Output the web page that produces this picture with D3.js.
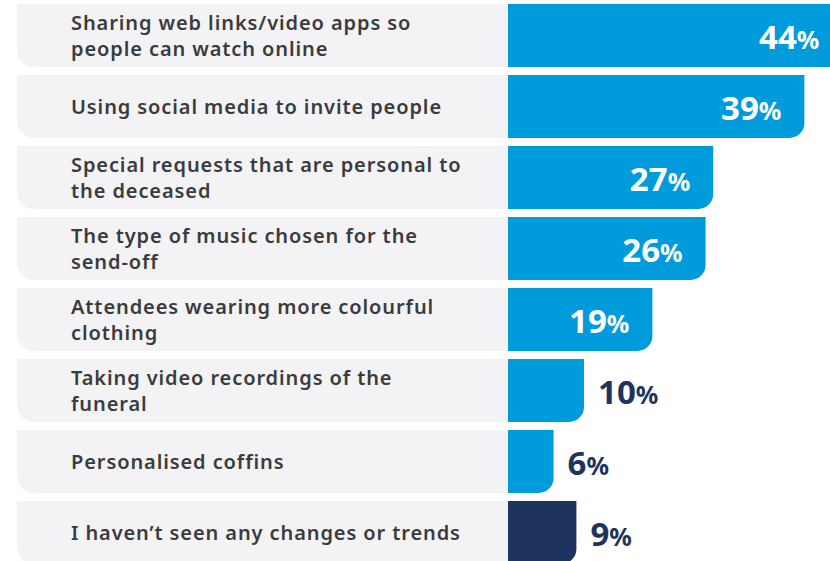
<!DOCTYPE html>
<html>
<head>
<meta charset="utf-8">
<script src="https://cdn.jsdelivr.net/npm/d3@7"></script>
<style>
  body { margin: 0; background: #fff; }
  svg { display: block; }
</style>
</head>
<body>
<div id="chart"></div>
<script>
// data
const categories = [
    "Sharing web links/video apps so\npeople can watch online",
    "Using social media to invite people",
    "Special requests that are personal to\nthe deceased",
    "The type of music chosen for the\nsend-off",
    "Attendees wearing more colourful\nclothing",
    "Taking video recordings of the\nfuneral",
    "Personalised coffins",
    "I haven\u2019t seen any changes or trends"
];
const values = [44, 39, 27, 26, 19, 10, 6, 9];
const groups = ["change", "change", "change", "change", "change", "change", "change", "none"];

const width = 830, height = 561;
const rowLeft = 17, barLeft = 508;

const svg = d3.select("#chart")
    .append("svg")
    .attr("width", width)
    .attr("height", height);

const y = d3.scaleBand()
    .domain(categories)
    .range([4, 564])
    .paddingInner(8 / 71)
    .paddingOuter(0);

const x = d3.scaleLinear()
    .domain([0, 100])
    .range([barLeft, barLeft + 760]);

const color = d3.scaleOrdinal()
    .domain(["change", "none"])
    .range(["#009bdb", "#1e335e"]);

const rows = categories.map((c, i) => ({ cat: c, value: values[i], group: groups[i] }));

// rounded bottom-left corner only
function rowPath(x0, x1, y0, h, r) {
    return `M${x0},${y0}H${x1}V${y0 + h}H${x0 + r}A${r},${r} 0 0 1 ${x0},${y0 + h - r}Z`;
}
// rounded bottom-right corner only
function barPath(x0, x1, y0, h, r) {
    r = Math.min(r, x1 - x0, h);
    return `M${x0},${y0}H${x1}V${y0 + h - r}A${r},${r} 0 0 1 ${x1 - r},${y0 + h}H${x0}Z`;
}

svg.selectAll("path.row")
    .data(rows)
    .join("path")
    .attr("class", "row")
    .attr("d", d => rowPath(rowLeft, barLeft, y(d.cat), y.bandwidth(), 17))
    .attr("fill", "#f3f3f5");

svg.selectAll("path.bar")
    .data(rows)
    .join("path")
    .attr("class", "bar")
    .attr("d", d => barPath(x(0), x(d.value), y(d.cat), y.bandwidth(), 15))
    .attr("fill", d => color(d.group));

// category labels
const labels = svg.selectAll("text.cat")
    .data(rows)
    .join("text")
    .attr("class", "cat")
    .attr("font-family", "'Noto Sans', sans-serif")
    .attr("font-weight", 600)
    .attr("font-size", 20)
    .attr("letter-spacing", 0.9)
    .attr("fill", "#3b3b3d");

labels.each(function(d) {
    const lines = d.cat.split("\n");
    const lh = 26;
    const cy = y(d.cat) + y.bandwidth() / 2;
    const first = cy - (lines.length - 1) * lh / 2 + 7;
    d3.select(this).selectAll("tspan")
        .data(lines)
        .join("tspan")
        .attr("x", 71)
        .attr("y", (l, j) => first + j * lh)
        .text(l => l);
});

// value labels
const inside = d => d.value >= 15;
const valueLabels = svg.selectAll("text.val")
    .data(rows)
    .join("text")
    .attr("class", "val")
    .attr("font-family", "'Noto Sans', sans-serif")
    .attr("font-weight", 700)
    .attr("x", d => inside(d) ? x(d.value) - 23 : x(d.value) + 14)
    .attr("y", d => y(d.cat) + y.bandwidth() / 2 + 13)
    .attr("text-anchor", d => inside(d) ? "end" : "start")
    .attr("fill", d => inside(d) ? "#ffffff" : "#1e335e");

valueLabels.append("tspan")
    .attr("font-size", 33)
    .text(d => d.value);
valueLabels.append("tspan")
    .attr("font-size", 25)
    .text("%");
</script>
</body>
</html>
